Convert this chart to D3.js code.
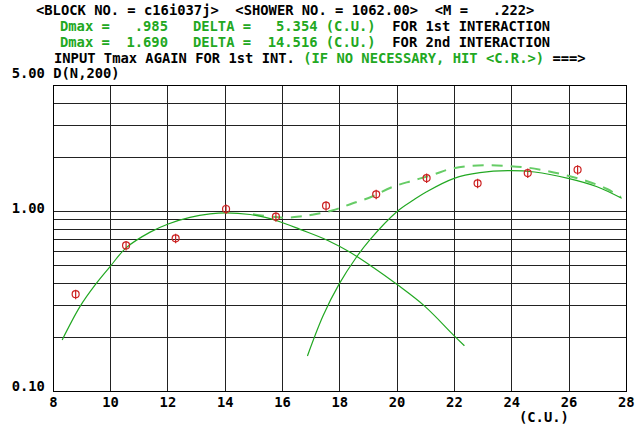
<!DOCTYPE html>
<html>
  <head>
    <title>D(N,200) shower transition</title>
    <meta charset="utf-8">
    <script src="https://d3js.org/d3.v7.min.js"></script>
    <style>
      body { margin: 0; background: #fff; }
      text { font-family: "DejaVu Sans Mono", "Liberation Mono", monospace; font-weight: bold; font-size: 13.8px; white-space: pre; }
    </style>
  </head>
  <body>
    <div id="vis"></div>
    <script>

      // measured points (red markers)
      var obsX = [8.78, 10.54, 12.27, 14.03, 15.77, 17.52, 19.27, 21.03, 22.81, 24.56, 26.30];
      var obsD = [0.348, 0.650, 0.711, 1.035, 0.938, 1.080, 1.249, 1.538, 1.438, 1.640, 1.711];

      // 1st interaction curve
      var c1X = [8.31, 8.93, 9.46, 9.98, 10.54, 11.38, 12.01, 12.77, 13.47, 14.03, 14.87, 15.40, 15.91, 16.61, 17.60, 18.36, 19.17, 19.99, 20.97, 21.96, 22.35];
      var c1D = [0.194, 0.297, 0.392, 0.495, 0.630, 0.770, 0.855, 0.930, 0.972, 0.985, 0.965, 0.930, 0.880, 0.798, 0.690, 0.595, 0.490, 0.395, 0.298, 0.207, 0.180];

      // 2nd interaction curve
      var c2X = [16.87, 17.42, 17.98, 18.59, 19.04, 19.99, 20.57, 21.03, 21.99, 22.89, 23.87, 24.80, 25.97, 26.98, 27.84];
      var c2D = [0.158, 0.265, 0.397, 0.562, 0.696, 1.000, 1.161, 1.291, 1.533, 1.647, 1.690, 1.662, 1.533, 1.377, 1.187];

      // sum of both (dashed)
      var sumX = [14.97, 15.56, 16.08, 16.61, 17.03, 17.73, 18.43, 19.13, 19.79, 20.49, 21.22, 21.85, 22.51, 23.21, 23.87, 24.53, 25.23, 25.93, 26.63, 27.33, 27.81];
      var sumD = [0.967, 0.940, 0.926, 0.940, 0.962, 1.015, 1.111, 1.214, 1.363, 1.481, 1.599, 1.727, 1.794, 1.810, 1.794, 1.760, 1.683, 1.589, 1.477, 1.337, 1.207];

      var xTicks = [8, 10, 12, 14, 16, 18, 20, 22, 24, 26, 28];
      var yGrid = [0.2, 0.3, 0.4, 0.5, 0.6, 0.7, 0.8, 0.9, 1, 2, 3, 4];
      var yLabels = [["5.00 D(N,200)", 5], ["1.00", 1], ["0.10", 0.1]];
      var yLabelShift = [-8, 1, -1];

      var green = "#22a822";
      var width = 643, height = 427;

      var svg = d3.select("#vis").append("svg")
        .attr("width", width)
        .attr("height", height);

      var x = d3.scaleLinear().domain([8, 28]).range([53.3, 626.3]);
      var y = d3.scaleLog().domain([0.1, 5]).range([391.7, 85.9]);

      // header lines
      var header = [
        { x: 36, y: 15, parts: [["<BLOCK NO. = c16i037j>  <SHOWER NO. = 1062.00>  <M =   .222>", "#000"]] },
        { x: 60, y: 31, parts: [["Dmax =   .985   DELTA =   5.354 (C.U.)", green], ["  FOR 1st INTERACTION", "#000"]] },
        { x: 60, y: 47, parts: [["Dmax =  1.690   DELTA =  14.516 (C.U.)", green], ["  FOR 2nd INTERACTION", "#000"]] },
        { x: 54, y: 63, parts: [["INPUT Tmax AGAIN FOR 1st INT. ", "#000"], ["(IF NO NECESSARY, HIT <C.R.>)", green], [" ===>", "#000"]] }
      ];
      header.forEach(function(h){
        var t = svg.append("text").attr("x", h.x).attr("y", h.y);
        h.parts.forEach(function(p){
          t.append("tspan").attr("fill", p[1]).text(p[0]);
        });
      });

      // grid
      var grid = svg.append("g").attr("stroke", "#222").attr("stroke-width", 1).attr("shape-rendering", "crispEdges");
      grid.selectAll("line.h").data(yGrid).enter().append("line")
        .attr("x1", x(8)).attr("x2", x(28))
        .attr("y1", function(d){ return y(d); })
        .attr("y2", function(d){ return y(d); });
      grid.selectAll("line.v").data(xTicks).enter().append("line")
        .attr("y1", y(5)).attr("y2", y(0.1))
        .attr("x1", function(d){ return x(d); })
        .attr("x2", function(d){ return x(d); });
      grid.append("rect")
        .attr("x", x(8)).attr("y", y(5))
        .attr("width", x(28) - x(8)).attr("height", y(0.1) - y(5))
        .attr("fill", "none").attr("stroke", "#000");

      // axis labels
      svg.selectAll("text.xt").data(xTicks).enter().append("text")
        .attr("x", function(d){ return x(d); })
        .attr("y", 407)
        .attr("text-anchor", "middle")
        .text(function(d){ return d; });
      svg.append("text").attr("x", 519).attr("y", 422).text("(C.U.)");
      yLabels.forEach(function(l, i){
        svg.append("text").attr("x", 11.7).attr("y", y(l[1]) + yLabelShift[i]).text(l[0]);
      });

      var line = d3.line()
        .x(function(d){ return x(d[0]); })
        .y(function(d){ return y(d[1]); })
        .curve(d3.curveCatmullRom.alpha(0.5));

      svg.append("path").datum(d3.zip(sumX, sumD))
        .attr("d", line).attr("fill", "none")
        .attr("stroke", "#66cc66").attr("stroke-width", 2)
        .attr("stroke-dasharray", "11,8");
      svg.append("path").datum(d3.zip(c1X, c1D))
        .attr("d", line).attr("fill", "none")
        .attr("stroke", green).attr("stroke-width", 1.2);
      svg.append("path").datum(d3.zip(c2X, c2D))
        .attr("d", line).attr("fill", "none")
        .attr("stroke", green).attr("stroke-width", 1.2);

      // markers
      var pts = svg.selectAll("g.pt").data(d3.zip(obsX, obsD)).enter().append("g")
        .attr("transform", function(d){ return "translate(" + x(d[0]) + "," + y(d[1]) + ")"; });
      pts.append("circle").attr("r", 3.5).attr("fill", "none").attr("stroke", "#cc2222").attr("stroke-width", 1.2);
      pts.append("line").attr("x1", 0).attr("x2", 0).attr("y1", -4.5).attr("y2", 5)
        .attr("stroke", "#cc2222").attr("stroke-width", 1.2);

    </script>
  </body>
</html>
